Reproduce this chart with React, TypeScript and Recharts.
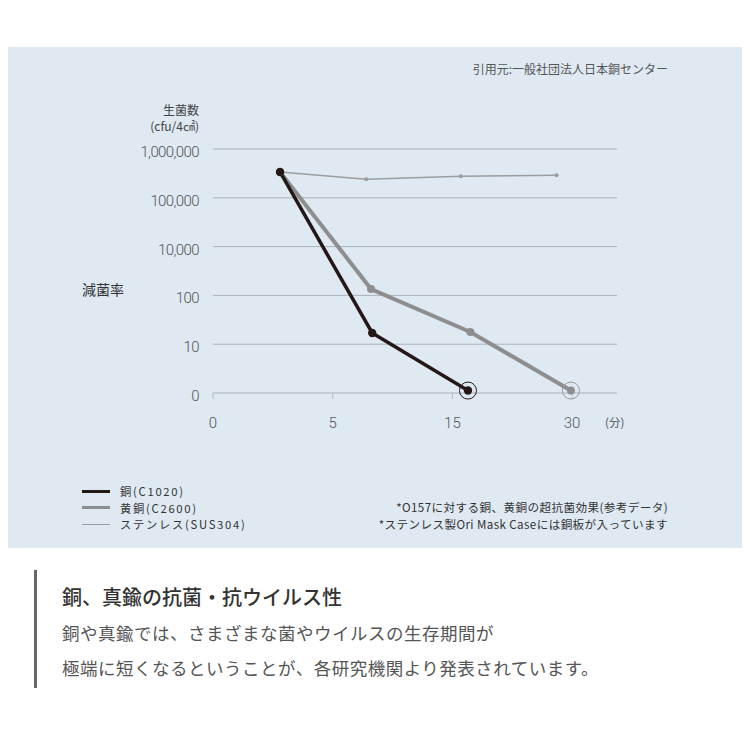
import { LineChart, Line, XAxis, YAxis, CartesianGrid } from "recharts";

// x positions are in tick-index units (0 → "0", 1 → "5", 2 → "15", 3 → "30")
// y positions are in tick-index units (0 → "0" ... 5 → "1,000,000")
const xTicks = [0, 1, 2, 3];
const xTickLabels = ["0", "5", "15", "30"];
const yTicks = [0, 1, 2, 3, 4, 5];
const yTickLabels = ["0", "10", "100", "10,000", "100,000", "1,000,000"];

const copperX = [0.56, 1.33, 2.13];
const copperY = [4.53, 1.23, 0.05];
const brassX = [0.56, 1.32, 2.15, 2.99];
const brassY = [4.53, 2.13, 1.25, 0.05];
const stainlessX = [0.56, 1.28, 2.07, 2.87];
const stainlessY = [4.53, 4.38, 4.44, 4.46];

const toPoints = (xs: number[], ys: number[]) =>
  xs.map((x, i) => ({ x, y: ys[i] }));

const copper = toPoints(copperX, copperY);
const brass = toPoints(brassX, brassY);
const stainless = toPoints(stainlessX, stainlessY);

const NUM_FONT = "'Liberation Sans Narrow', 'Roboto', sans-serif";
const JP_FONT = "'Noto Sans CJK JP', sans-serif";

const COPPER = "#231815";
const BRASS = "#8e8e8e";
const STEEL = "#9d9d9d";

function makeDot(color: string, r: number, count: number, ring?: string) {
  return (props: any) => {
    const { cx, cy, index } = props;
    const last = index === count - 1;
    return (
      <g key={`dot-${color}-${index}`}>
        {last && ring ? (
          <circle cx={cx} cy={cy} r={8.5} fill="none" stroke={ring} strokeWidth={1} />
        ) : null}
        <circle cx={cx} cy={cy} r={r} fill={color} stroke="none" />
      </g>
    );
  };
}

const YTick = (props: any) => {
  const { y, payload } = props;
  return (
    <text
      x={199}
      y={y + 3}
      textAnchor="end"
      dominantBaseline="central"
      fontFamily={NUM_FONT}
      fontSize={15}
      fontWeight={300}
      letterSpacing={-0.6}
      fill="#555"
    >
      {yTickLabels[payload.value]}
    </text>
  );
};

const XTick = (props: any) => {
  const { x, payload } = props;
  return (
    <text
      x={x}
      y={423}
      textAnchor="middle"
      dominantBaseline="central"
      fontFamily={NUM_FONT}
      fontSize={15}
      fontWeight={300}
      fill="#555"
    >
      {xTickLabels[payload.value]}
    </text>
  );
};

const legendItems = [
  { label: "銅(C1020)", color: COPPER, width: 3 },
  { label: "黄銅(C2600)", color: BRASS, width: 3 },
  { label: "ステンレス(SUS304)", color: STEEL, width: 1.2 },
];

export default function App() {
  return (
    <div
      style={{
        position: "relative",
        width: 750,
        height: 750,
        margin: -8,
        background: "#fff",
        overflow: "hidden",
      }}
    >
      <div
        style={{
          position: "absolute",
          left: 0,
          top: 47,
          width: 750,
          height: 501,
          background: "#dfe9f2",
        }}
      />

      <div style={{ position: "absolute", left: 0, top: 0 }}>
        <LineChart
          width={750}
          height={550}
          margin={{ top: 149, right: 133, left: 153, bottom: 117 }}
        >
          <CartesianGrid vertical={false} stroke="#a9b2ba" strokeWidth={1} />
          <XAxis
            type="number"
            dataKey="x"
            domain={[0, 3.375]}
            ticks={xTicks}
            allowDataOverflow
            axisLine={false}
            tickLine={{ stroke: "#b5bcc2" }}
            tickSize={6}
            height={40}
            tick={<XTick />}
          />
          <YAxis
            type="number"
            dataKey="y"
            domain={[0, 5]}
            ticks={yTicks}
            axisLine={false}
            tickLine={false}
            width={60}
            tick={<YTick />}
          />
          <Line
            data={stainless}
            dataKey="y"
            stroke={STEEL}
            strokeWidth={1.5}
            dot={makeDot(STEEL, 2, stainless.length)}
            activeDot={false}
            isAnimationActive={false}
          />
          <Line
            data={brass}
            dataKey="y"
            stroke={BRASS}
            strokeWidth={4}
            dot={makeDot(BRASS, 4, brass.length, "#999")}
            activeDot={false}
            isAnimationActive={false}
          />
          <Line
            data={copper}
            dataKey="y"
            stroke={COPPER}
            strokeWidth={3.5}
            dot={makeDot(COPPER, 4.2, copper.length, COPPER)}
            activeDot={false}
            isAnimationActive={false}
          />
        </LineChart>
      </div>

      {/* labels over the chart */}
      <div
        style={{
          position: "absolute",
          right: 82,
          top: 60,
          fontFamily: JP_FONT,
          fontSize: 12,
          color: "#555",
        }}
      >
        引用元:一般社団法人日本銅センター
      </div>
      <div
        style={{
          position: "absolute",
          right: 551,
          top: 102,
          textAlign: "right",
          fontFamily: JP_FONT,
          fontSize: 12,
          lineHeight: "16px",
          color: "#444",
        }}
      >
        生菌数
        <br />
        (cfu/4㎠)
      </div>
      <div
        style={{
          position: "absolute",
          left: 82,
          top: 279,
          fontFamily: JP_FONT,
          fontSize: 14,
          color: "#333",
        }}
      >
        減菌率
      </div>
      <div
        style={{
          position: "absolute",
          left: 605,
          top: 414,
          fontFamily: JP_FONT,
          fontSize: 11.5,
          color: "#555",
        }}
      >
        (分)
      </div>

      {/* legend */}
      <div style={{ position: "absolute", left: 82, top: 483 }}>
        {legendItems.map((it) => (
          <div
            key={it.label}
            style={{ display: "flex", alignItems: "center", height: 16.5 }}
          >
            <div
              style={{
                width: 28,
                height: it.width,
                background: it.color,
                marginRight: 10,
              }}
            />
            <span
              style={{
                fontFamily: JP_FONT,
                fontSize: 11.3,
                letterSpacing: 1.7,
                color: "#333",
                lineHeight: "16px",
              }}
            >
              {it.label}
            </span>
          </div>
        ))}
      </div>

      <div
        style={{
          position: "absolute",
          right: 82,
          top: 499,
          textAlign: "right",
          fontFamily: JP_FONT,
          fontSize: 11.6,
          letterSpacing: 0.4,
          lineHeight: "17px",
          color: "#333",
        }}
      >
        *O157に対する銅、黄銅の超抗菌効果(参考データ)
        <br />
        *ステンレス製Ori Mask Caseには銅板が入っています
      </div>

      {/* description below */}
      <div
        style={{
          position: "absolute",
          left: 34,
          top: 570,
          width: 3,
          height: 118,
          background: "#666",
        }}
      />
      <div
        style={{
          position: "absolute",
          left: 62,
          top: 584,
          fontFamily: JP_FONT,
          fontSize: 20,
          fontWeight: 500,
          color: "#333",
          lineHeight: "26px",
        }}
      >
        銅、真鍮の抗菌・抗ウイルス性
      </div>
      <div
        style={{
          position: "absolute",
          left: 62,
          top: 615,
          fontFamily: JP_FONT,
          fontSize: 17.5,
          letterSpacing: 0.5,
          color: "#555",
          lineHeight: "35px",
          whiteSpace: "nowrap",
        }}
      >
        銅や真鍮では、さまざまな菌やウイルスの生存期間が
        <br />
        極端に短くなるということが、各研究機関より発表されています。
      </div>
    </div>
  );
}
